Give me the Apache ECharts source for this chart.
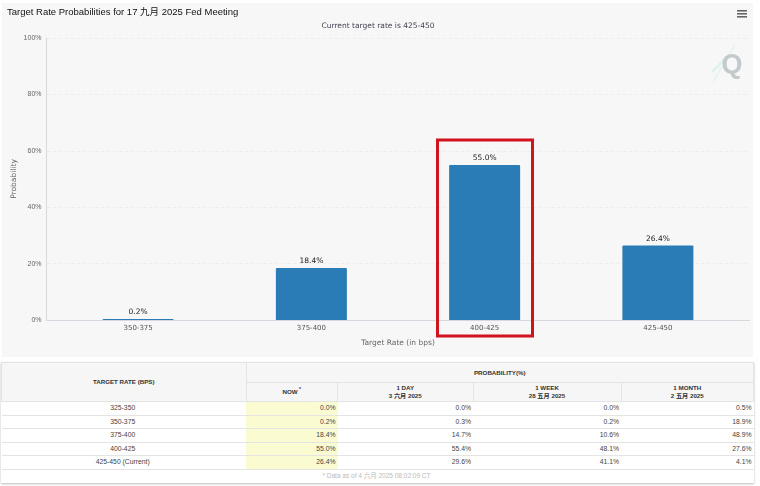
<!DOCTYPE html>
<html>
<head>
<meta charset="utf-8">
<script src="https://cdn.jsdelivr.net/npm/echarts@6/dist/echarts.min.js"></script>
<style>
  html, body { margin: 0; padding: 0; background: #fff; }
  #chart { position: absolute; left: 0; top: 0; width: 760px; height: 358px; }
  #table { position: absolute; left: 1px; top: 362px; width: 752px; border-collapse: collapse; table-layout: fixed;
    font-family: "Liberation Sans", "Noto Sans CJK SC", sans-serif; font-size: 6.8px; color: #444;
    box-shadow: 0 1px 2px #bbb; }
  #table th { background: #f6f6f6; color: #333; font-size: 6.2px; font-weight: bold; border: 1px solid #e4e4e4; padding: 0; line-height: 8px; }
  #table td { border-bottom: 1px solid #e4e4e4; padding: 0 2px 0 0; height: 12.5px; text-align: right; line-height: 12px; }
  #table td.rate { text-align: center; }
  #table td.now { background: #fbfbd2; }
  #table td.note { text-align: center; color: #bbb; font-size: 6.5px; border-bottom: 0; height: 13px; }
</style>
</head>
<body>
<div id="chart"></div>
<table id="table"></table>
<script>
const titleText = 'Target Rate Probabilities for 17 九月 2025 Fed Meeting'
const subtitleText = 'Current target rate is 425-450'
const categories = ['350-375', '375-400', '400-425', '425-450']
const probabilities = [0.2, 18.4, 55.0, 26.4]

const tableRates = ['325-350', '350-375', '375-400', '400-425', '425-450 (Current)']
const tableNow = ['0.0%', '0.2%', '18.4%', '55.0%', '26.4%']
const tableDay = ['0.0%', '0.3%', '14.7%', '55.4%', '29.6%']
const tableWeek = ['0.0%', '0.2%', '10.6%', '48.1%', '41.1%']
const tableMonth = ['0.5%', '18.9%', '48.9%', '27.6%', '4.1%']
const tableNote = '* Data as of 4 六月 2025 08:02:09 CT'

const axisFont = '"DejaVu Sans", sans-serif'
const chart = echarts.init(document.getElementById('chart'))

chart.setOption({
  backgroundColor: '#fff',
  animation: false,
  title: [
    { text: titleText, left: 7, top: 8, padding: 0, textStyle: { fontFamily: '"Liberation Sans", "Noto Sans CJK SC"', fontSize: 9.5, fontWeight: 'normal', color: '#111' } },
    { text: subtitleText, left: 378, top: 22, padding: 0, textAlign: 'center', textStyle: { fontFamily: axisFont, fontSize: 7.5, fontWeight: 'normal', color: '#445' } }
  ],
  // grid 0 holds the frame (y labels, gridlines), grid 1 the bars, which sit a little inside it
  grid: [
    { left: 46.5, top: 38, width: 703, height: 282, outerBoundsMode: 'none' },
    { left: 51.5, top: 38, width: 693, height: 282, outerBoundsMode: 'none' }
  ],
  xAxis: [
    { type: 'value', gridIndex: 0, min: 0, max: 1, axisLabel: { show: false }, axisTick: { show: false }, splitLine: { show: false },
      axisLine: { show: true, lineStyle: { color: '#d5d8dc', width: 1 } } },
    { type: 'category', gridIndex: 1, data: categories, axisLine: { show: false }, axisTick: { show: false },
      axisLabel: { fontFamily: axisFont, fontSize: 7, color: '#555', margin: 5 },
      name: 'Target Rate (in bps)', nameLocation: 'middle', nameGap: 19,
      nameTextStyle: { fontFamily: axisFont, fontSize: 7.5, color: '#666' } }
  ],
  yAxis: [
    { type: 'value', gridIndex: 0, min: 0, max: 100, interval: 20,
      axisLabel: { formatter: '{value}%', fontFamily: '"Liberation Sans"', fontSize: 7, color: '#666', margin: 5 },
      axisLine: { show: true, lineStyle: { color: '#d5d8dc', width: 1 } }, axisTick: { show: false },
      splitLine: { lineStyle: { color: '#eeeeee', type: 'dashed', width: 1 } },
      name: 'Probability', nameLocation: 'middle', nameGap: 28, nameMoveOverlap: false,
      nameTextStyle: { fontFamily: axisFont, fontSize: 7.5, color: '#666' } },
    { type: 'value', gridIndex: 1, min: 0, max: 100, show: false }
  ],
  series: [{
    type: 'bar',
    xAxisIndex: 1,
    yAxisIndex: 1,
    data: probabilities,
    barWidth: 71,
    barMinHeight: 1,
    itemStyle: { color: '#2a7cb6', borderRadius: [1, 1, 0, 0] },
    label: { show: true, position: 'top', distance: 3, formatter: p => p.value.toFixed(1) + '%',
      fontFamily: axisFont, fontSize: 7.5, color: '#222' }
  }],
  graphic: [
    // panel behind the plot
    { type: 'rect', z: -10, silent: true, shape: { x: 2, y: 3, width: 751, height: 354 }, style: { fill: '#f7f7f7' } },
    // highlight box
    { type: 'rect', z: 100, silent: true, shape: { x: 437.5, y: 140, width: 95, height: 196 }, style: { fill: 'none', stroke: '#d0131c', lineWidth: 3 } },
    // menu icon
    { type: 'rect', z: 100, silent: true, shape: { x: 737, y: 10, width: 10, height: 1.6 }, style: { fill: '#666' } },
    { type: 'rect', z: 100, silent: true, shape: { x: 737, y: 13, width: 10, height: 1.6 }, style: { fill: '#666' } },
    { type: 'rect', z: 100, silent: true, shape: { x: 737, y: 16, width: 10, height: 1.6 }, style: { fill: '#666' } },
    // watermark
    { type: 'line', z: 5, silent: true, shape: { x1: 713, y1: 82, x2: 735, y2: 44 }, style: { stroke: '#dff3ec', lineWidth: 1.2 } },
    { type: 'line', z: 5, silent: true, shape: { x1: 712, y1: 72, x2: 724, y2: 60 }, style: { stroke: '#dff3ec', lineWidth: 3 } },
    { type: 'text', z: 6, silent: true, style: { x: 732, y: 66, text: 'Q', align: 'center', verticalAlign: 'middle', fontFamily: '"Liberation Sans"', fontSize: 27, fontWeight: 'bold', fill: '#c4c9cc' } }
  ]
})

function buildTable() {
  const colWidths = [244.5, 91.5, 135.5, 148, 132.5]
  let html = '<colgroup>' + colWidths.map(w => `<col style="width:${w}px">`).join('') + '</colgroup>'
  html += '<tr style="height:20px"><th rowspan="2">TARGET RATE (BPS)</th><th colspan="4">PROBABILITY(%)</th></tr>'
  html += '<tr style="height:19px"><th>NOW<sup style="font-size:5px;line-height:0"> *</sup></th><th>1 DAY<br>3 六月 2025</th><th>1 WEEK<br>28 五月 2025</th><th>1 MONTH<br>2 五月 2025</th></tr>'
  tableRates.forEach((rate, i) => {
    html += `<tr><td class="rate">${rate}</td><td class="now">${tableNow[i]}</td><td>${tableDay[i]}</td><td>${tableWeek[i]}</td><td>${tableMonth[i]}</td></tr>`
  })
  html += `<tr><td class="note" colspan="5">${tableNote}</td></tr>`
  document.getElementById('table').innerHTML = html
}
buildTable()
</script>
</body>
</html>
